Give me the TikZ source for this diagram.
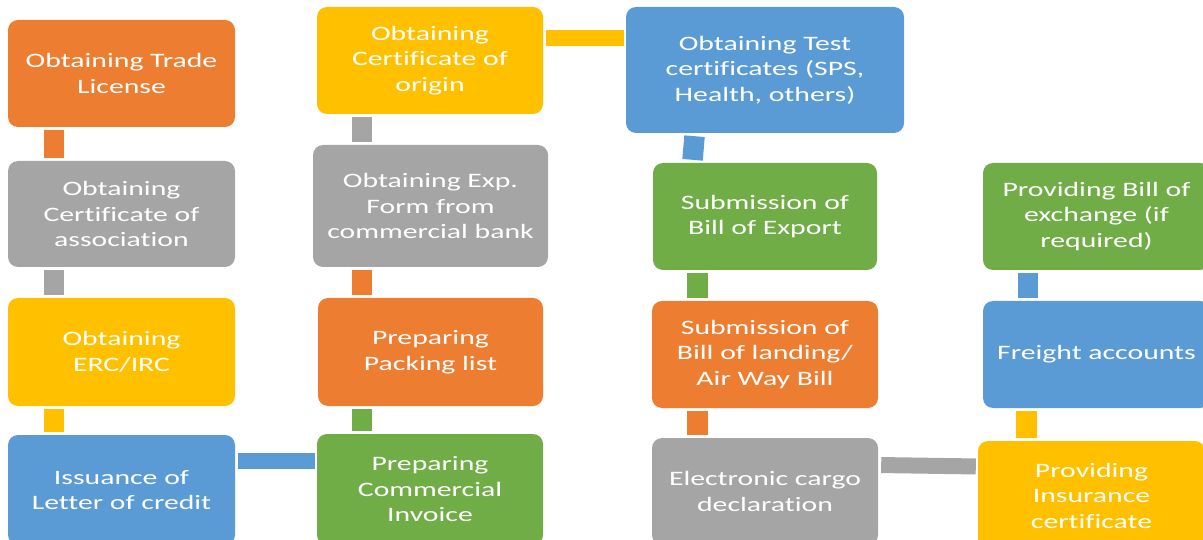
\documentclass[tikz,border=0pt]{standalone}
\usepackage{fontspec}
\setmainfont[FakeStretch=1.45,Ligatures={NoCommon}]{Carlito}
\definecolor{cOrange}{HTML}{ED7D31}
\definecolor{cGray}{HTML}{A5A5A5}
\definecolor{cYellow}{HTML}{FFC000}
\definecolor{cBlue}{HTML}{5B9BD5}
\definecolor{cGreen}{HTML}{70AD47}
\tikzset{
  stepbox/.style={rectangle, rounded corners=10pt, text=white, align=center,
    inner sep=0pt, font=\fontsize{20.5}{25.5}\selectfont},
  vconn/.style={line width=20.5pt, line cap=butt, shorten <=3pt, shorten >=3pt},
  hconn/.style={line width=16pt, line cap=butt, shorten <=3pt, shorten >=2pt},
}
\begin{document}
\begin{tikzpicture}[x=1pt,y=-1pt]
\useasboundingbox (0,0) rectangle (1203,540);
\clip (0,0) rectangle (1203,540);
% column 1
\node[stepbox, fill=cOrange, minimum width=227pt, minimum height=107pt] (trade) at (121.5,73.5) {Obtaining Trade\\License};
\node[stepbox, fill=cGray, minimum width=227pt, minimum height=106pt] (assoc) at (121.5,214) {Obtaining\\Certificate of\\association};
\node[stepbox, fill=cYellow, minimum width=227pt, minimum height=108pt] (erc) at (121.5,352) {Obtaining\\ERC/IRC};
\node[stepbox, fill=cBlue, minimum width=227pt, minimum height=110pt] (lc) at (121.5,490) {Issuance of\\Letter of credit};
% column 2
\node[stepbox, fill=cYellow, minimum width=226pt, minimum height=107pt] (origin) at (430,60.5) {Obtaining\\Certificate of\\origin};
\node[stepbox, fill=cGray, minimum width=235pt, minimum height=122pt] (expform) at (430.5,206) {Obtaining Exp.\\Form from\\commercial bank};
\node[stepbox, fill=cOrange, minimum width=225pt, minimum height=108pt] (packing) at (430.5,352) {Preparing\\Packing list};
\node[stepbox, fill=cGreen, minimum width=226pt, minimum height=111pt] (commercial) at (430,489.5) {Preparing\\Commercial\\Invoice};
% column 3
\node[stepbox, fill=cBlue, minimum width=278pt, minimum height=126pt] (test) at (765,70) {Obtaining Test\\certificates (SPS,\\Health, others)};
\node[stepbox, fill=cGreen, minimum width=224pt, minimum height=107pt] (export) at (765,216.5) {Submission of\\Bill of Export};
\node[stepbox, fill=cOrange, minimum width=226pt, minimum height=107pt] (bl) at (765,354.5) {Submission of\\Bill of landing/\\Air Way Bill};
\node[stepbox, fill=cGray, minimum width=226pt, minimum height=107pt] (cargo) at (765,491.5) {Electronic cargo\\declaration};
% column 4
\node[stepbox, fill=cGreen, minimum width=227pt, minimum height=107pt] (exchange) at (1096.5,216.5) {Providing Bill of\\exchange (if\\required)};
\node[stepbox, fill=cBlue, minimum width=227pt, minimum height=107pt] (freight) at (1096.5,354.5) {Freight accounts};
\node[stepbox, fill=cYellow, minimum width=227pt, minimum height=109pt] (insurance) at (1091.5,495.5) {Providing\\Insurance\\certificate};
% connectors
\draw[vconn, cOrange] ([xshift=46pt]trade.south west) -- ([xshift=46pt]assoc.north west);
\draw[vconn, cGray] ([xshift=46pt]assoc.south west) -- ([xshift=46pt]erc.north west);
\draw[vconn, cYellow] ([xshift=46pt]erc.south west) -- ([xshift=46pt]lc.north west);
\draw[hconn, cBlue] ([yshift=29pt]lc.east) -- ([yshift=28.5pt]commercial.west);
\draw[vconn, cGreen] ([xshift=45pt]commercial.north west) -- ([xshift=44pt]packing.south west);
\draw[vconn, cOrange] ([xshift=44pt]packing.north west) -- ([xshift=49pt]expform.south west);
\draw[vconn, cGray] ([xshift=49pt]expform.north west) -- ([xshift=45pt]origin.south west);
\draw[hconn, cYellow] ([yshift=22.5pt]origin.east) -- ([yshift=32pt]test.west);
\draw[vconn, cBlue] ([xshift=69pt]test.south west) -- ([xshift=39.5pt]export.north west);
\draw[vconn, cGreen] ([xshift=44.5pt]export.south west) -- ([xshift=45.5pt]bl.north west);
\draw[vconn, cOrange] ([xshift=45.5pt]bl.south west) -- ([xshift=45.5pt]cargo.north west);
\draw[hconn, cGray] ([yshift=26.5pt]cargo.east) -- ([yshift=29pt]insurance.west);
\draw[vconn, cYellow] ([xshift=48.5pt]insurance.north west) -- ([xshift=43.5pt]freight.south west);
\draw[vconn, cBlue] ([xshift=45pt]freight.north west) -- ([xshift=45pt]exchange.south west);
\end{tikzpicture}
\end{document}
